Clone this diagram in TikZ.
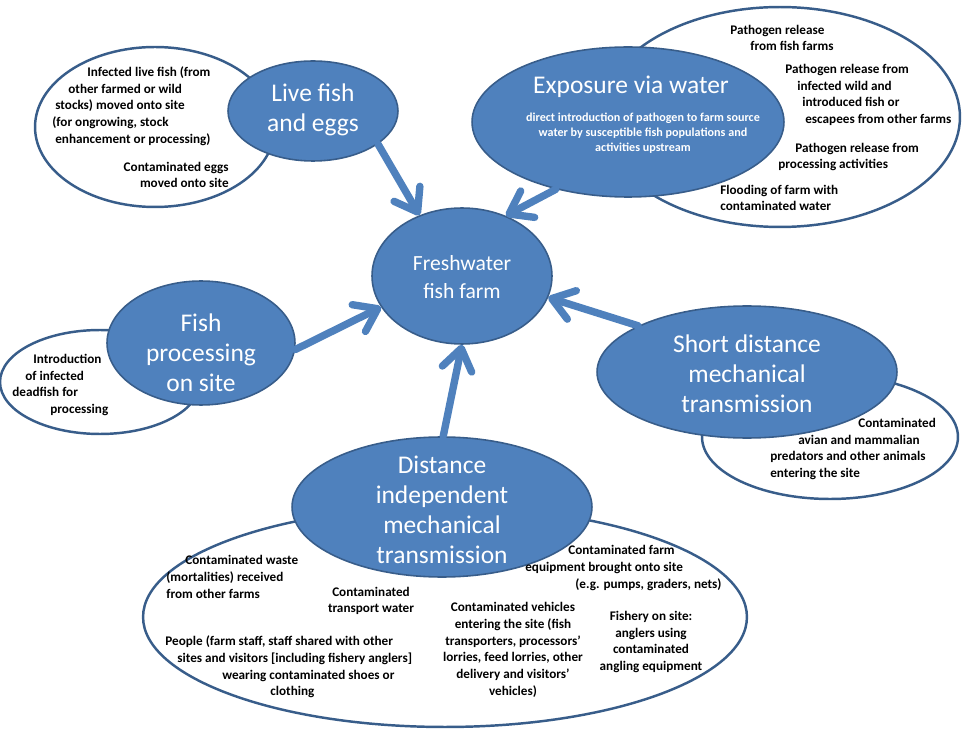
\documentclass[tikz,border=0pt]{standalone}
\usepackage{fontspec}
\setmainfont{Carlito}
\usepackage{tikz}
\usetikzlibrary{shapes.geometric, arrows.meta, positioning}

\definecolor{officeblue}{HTML}{4F81BD}
\definecolor{edgeblue}{HTML}{385D8A}
\newdimen\pxu \pxu=0.02cm
\newcommand{\ind}[1]{\hspace*{#1\pxu}}

\begin{document}
\begin{tikzpicture}[
    x=0.02cm, y=-0.02cm,
    topic/.style={ellipse, draw=edgeblue, line width=0.9pt, fill=officeblue},
    cloud/.style={ellipse, draw=edgeblue, line width=1.4pt, fill=white},
    head/.style={text=white, align=center, font=\fontsize{14.5}{17}\selectfont},
    note/.style={align=center, inner sep=0pt, font=\fontsize{7.5}{9.5}\selectfont\bfseries},
    lnote/.style={note, align=left, anchor=west},
    arrow/.style={draw=officeblue, line width=4.2pt, line cap=round,
        -{Straight Barb[length=12pt, width=17pt, round]}}
]
\useasboundingbox (0,0) rectangle (963,729);

% white pathway clouds
\node[cloud, minimum width=4.8cm, minimum height=3.2cm] (livec) at (155,127) {};
\node[cloud, minimum width=7.2cm, minimum height=4.4cm] (waterc) at (780,117) {};
\node[cloud, minimum width=4cm, minimum height=2.08cm] (procc) at (100,382) {};
\node[cloud, minimum width=5.12cm, minimum height=2.48cm] (shortc) at (830,437) {};
\node[cloud, minimum width=12.08cm, minimum height=4.4cm] (distc) at (445,617) {};

% blue topics
\node[topic, minimum width=3.4cm, minimum height=2cm] (live) at (313,111) {};
\node[topic, minimum width=6.24cm, minimum height=3cm] (water) at (628,122) {};
\node[topic, minimum width=3.6cm, minimum height=2.72cm] (farm) at (462,276) {};
\node[topic, minimum width=3.76cm, minimum height=2.48cm] (proc) at (201,343) {};
\node[topic, minimum width=6cm, minimum height=2.64cm] (short) at (747,372) {};
\node[topic, minimum width=6cm, minimum height=2.8cm] (dist) at (442,507) {};

% arrows into the farm
\draw[arrow] (live.-27) -- (farm.125);
\draw[arrow] (water.-137) -- (farm.54);
\draw[arrow] (proc.-4) -- (farm.201);
\draw[arrow] (dist.89) -- (farm.270);
\draw[arrow] (short.157) -- (farm.-14);

% titles
\node[head] (livet) at (313,110) {Live fish\\and eggs};
\node[head] (watert) at (631,87) {Exposure via water};
\node[head, font=\fontsize{12.3}{16.4}\selectfont] (farmt) at (462,277) {Freshwater\\fish farm};
\node[head] (proct) at (201,353) {Fish\\processing\\on site};
\node[head] (shortt) at (747,374) {Short distance\\mechanical\\transmission};
\node[head] (distt) at (442,510) {Distance\\independent\\mechanical\\transmission};
\node[note, text=white, font=\fontsize{6.9}{8.5}\selectfont\bfseries] (waterd) at (643,133)
    {direct introduction of pathogen to farm source\\water by susceptible fish populations and\\activities upstream};

% notes in the clouds
\node[lnote] (n1) at (52,106) {\ind{35}Infected live fish (from\\\ind{16}other farmed or wild\\\ind{3}stocks) moved onto site\\(for ongrowing, stock\\\ind{3}enhancement or processing)};
\node[note, align=right, anchor=east] (n2) at (229,175) {Contaminated eggs\\moved onto site};
\node[lnote] (n3) at (730,38) {Pathogen release\\\ind{20}from fish farms};
\node[lnote] (n4) at (785,95) {Pathogen release from\\\ind{12}infected wild and\\\ind{17}introduced fish or\\\ind{20}escapees from other farms};
\node[lnote] (n5) at (778,157) {\ind{17}Pathogen release from\\processing activities};
\node[lnote] (n6) at (720,198) {Flooding of farm with\\contaminated water};
\node[lnote] (n7) at (12,385) {\ind{21}Introduction\\\ind{13}of infected\\deadfish for\\\ind{38}processing};
\node[lnote] (n8) at (770,449) {\ind{88}Contaminated\\\ind{28}avian and mammalian\\predators and other animals\\entering the site};
\node[lnote] (n9) at (166,577) {\ind{19}Contaminated waste\\(mortalities) received\\from other farms};
\node[note] (n10) at (371,601) {Contaminated\\transport water};
\node[lnote] (n11) at (165,667) {People (farm staff, staff shared with other\\\ind{12}sites and visitors [including fishery anglers]\\\ind{57}wearing contaminated shoes or\\\ind{105}clothing};
\node[lnote] (n12) at (525,568) {\ind{43}Contaminated farm\\equipment brought onto site\\\ind{50}(e.g. pumps, graders, nets)};
\node[note] (n13) at (513,650) {Contaminated vehicles\\entering the site (fish\\transporters, processors’\\lorries, feed lorries, other\\delivery and visitors’\\vehicles)};
\node[note] (n14) at (651,642) {Fishery on site:\\anglers using\\contaminated\\angling equipment};
\end{tikzpicture}
\end{document}
